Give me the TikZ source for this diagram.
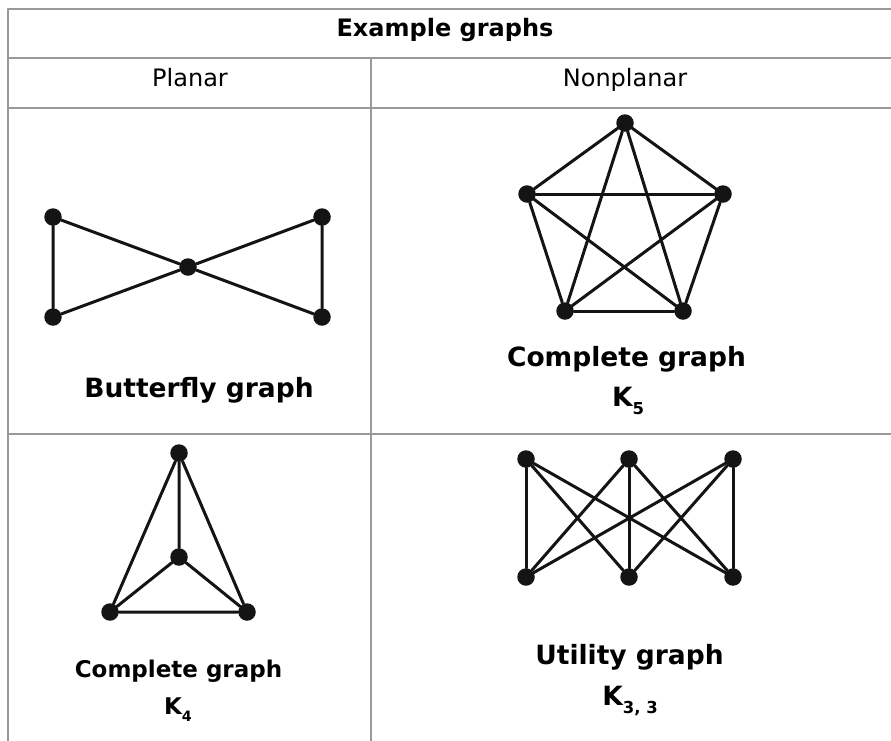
\documentclass[tikz,border=0pt]{standalone}
\usepackage{fontspec}
\setmainfont{DejaVu Sans}
\newcommand{\lowidx}[1]{\raisebox{-0.32em}{\scalebox{0.62}{#1}}}
\begin{document}
\begin{tikzpicture}[x=1pt,y=-1pt,line join=round,line cap=round,
	rule/.style={draw=black!40,line width=1.5pt,line cap=rect},
	dot/.style={circle,fill=black!92,inner sep=0pt,minimum size=17.5pt},
	ed/.style={line width=3pt,draw=black!92},
	head/.style={anchor=base,font=\fontsize{24}{28}\selectfont},
	lab/.style={anchor=base,font=\bfseries\fontsize{26.5}{30}\selectfont}]
	\useasboundingbox(0,0)rectangle(891,740);
	% table
	\draw[rule](8,740)--(8,9)--(891,9);
	\draw[rule](8,58)--(891,58)(8,108)--(891,108)(8,434)--(891,434);
	\draw[rule](371,58)--(371,740);
	\node[head,font=\bfseries\fontsize{24}{28}\selectfont](title)at(445,36){Example graphs};
	\node[head](planar)at(190,86){Planar};
	\node[head](nonplanar)at(625,86){Nonplanar};
	% butterfly
	\node[dot](b1)at(53,217){};
	\node[dot](b2)at(53,317){};
	\node[dot](b0)at(188,267){};
	\node[dot](b3)at(322,217){};
	\node[dot](b4)at(322,317){};
	\draw[ed](b1)--(b2)(b1)--(b0)(b2)--(b0)(b0)--(b3)(b0)--(b4)(b3)--(b4);
	\node[lab](bfly)at(199,397){Butterfly graph};
	% K5
	\node[dot](p1)at(625,123){};
	\node[dot](p2)at(527,194){};
	\node[dot](p3)at(565,311){};
	\node[dot](p4)at(683,311){};
	\node[dot](p5)at(723,194){};
	\foreach \i/\j in {1/2,1/3,1/4,1/5,2/3,2/4,2/5,3/4,3/5,4/5}
	\draw[ed](p\i)--(p\j);
	\node[lab](kfive)at(626.5,366){Complete graph};
	\node[lab](kfivesym)at(628,406){K\lowidx{5}};
	% K4
	\node[dot](t1)at(179,453){};
	\node[dot](t0)at(179,557){};
	\node[dot](t2)at(110,612){};
	\node[dot](t3)at(247,612){};
	\draw[ed](t1)--(t0)(t1)--(t2)(t1)--(t3)(t0)--(t2)(t0)--(t3)(t2)--(t3);
	\node[lab,font=\bfseries\fontsize{23}{27}\selectfont](kfour)at(178.5,677){Complete graph};
	\node[lab,font=\bfseries\fontsize{23}{27}\selectfont](kfoursym)at(178,714){K\lowidx{4}};
	% K3,3
	\foreach \n/\x in {1/526,2/629,3/733}{
	\node[dot](u\n)at(\x,459){};
	\node[dot](v\n)at(\x,577){};
	}
	\foreach \i in {1,2,3}
	\foreach \j in {1,2,3}
	\draw[ed](u\i)--(v\j);
	\node[lab](util)at(629.5,664){Utility graph};
	\node[lab](utilsym)at(630,705){K\lowidx{3, 3}};
\end{tikzpicture}
\end{document}
